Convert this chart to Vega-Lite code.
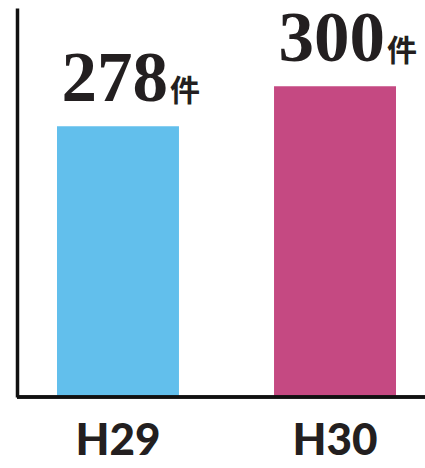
{
  "$schema": "https://vega.github.io/schema/vega-lite/v6.json",
  "autosize": {"type": "none"},
  "padding": {"left": 17, "top": 8, "right": 0, "bottom": 71},
  "width": 408,
  "height": 389,
  "background": "white",
  "data": {"values": [
    {"year": "H29", "count": 278},
    {"year": "H30", "count": 300}
  ]},
  "encoding": {
    "x": {
      "field": "year", "type": "nominal", "title": null,
      "scale": {"range": [40, 379], "paddingInner": 0.438, "paddingOuter": 0},
      "axis": {
        "domain": false, "ticks": false, "tickSize": 0,
        "labelAngle": 0, "labelFont": "Lato", "labelFontWeight": 900, "labelFontSize": 44,
        "labelColor": "#231f20", "labelBaseline": "alphabetic", "labelPadding": 57
      }
    },
    "y": {
      "field": "count", "type": "quantitative", "title": null,
      "scale": {"domain": [129, 343], "zero": false, "nice": false, "clamp": true},
      "axis": {
        "domainColor": "#111111", "domainWidth": 3.5, "ticks": false, "labels": false, "grid": false
      }
    }
  },
  "layer": [
    {
      "mark": {"type": "bar", "clip": true},
      "encoding": {
        "color": {
          "field": "year", "type": "nominal", "legend": null,
          "scale": {"domain": ["H29", "H30"], "range": ["#62bfec", "#c54982"]}
        }
      }
    },
    {
      "mark": {"type": "rule", "color": "#111111", "strokeWidth": 3.5},
      "encoding": {"x": null, "y": {"datum": 129, "type": "quantitative"}}
    },
    {
      "mark": {"type": "text", "align": "right", "baseline": "alphabetic", "dx": 50, "dy": -25,
               "font": "Liberation Serif", "fontWeight": "bold", "fontSize": 71, "color": "#231f20"},
      "encoding": {"text": {"field": "count", "type": "quantitative"}}
    },
    {
      "mark": {"type": "text", "align": "left", "baseline": "alphabetic", "dx": 52, "dy": -25,
               "font": "Noto Sans CJK JP", "fontWeight": "bold", "fontSize": 30, "color": "#231f20",
               "text": "件"}
    }
  ],
  "config": {"view": {"stroke": null}}
}
